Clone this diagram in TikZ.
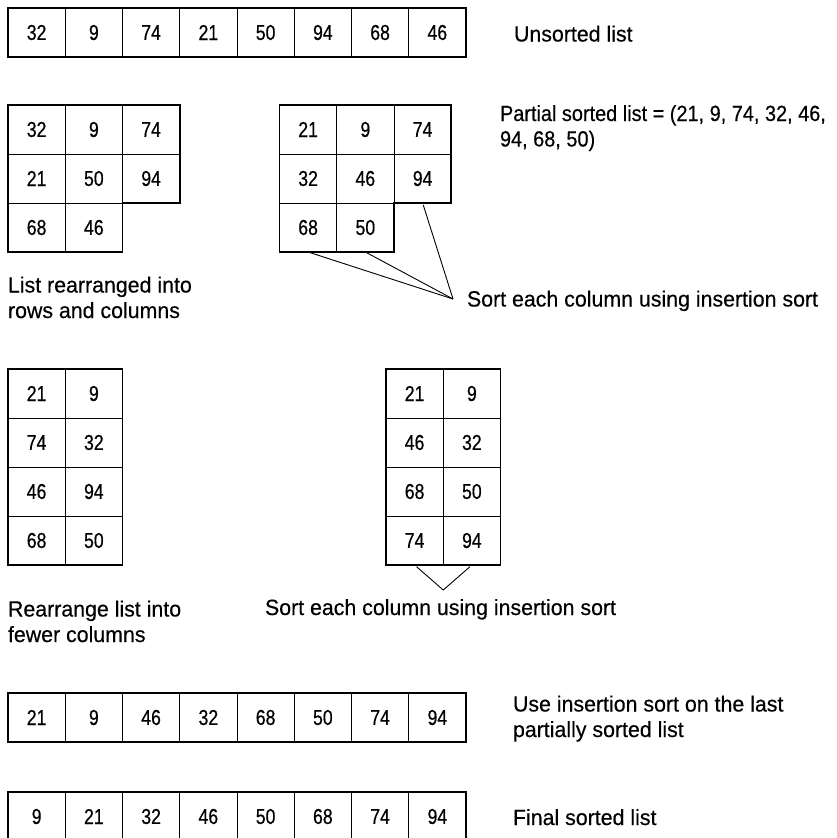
\documentclass[tikz,border=0pt]{standalone}
\usepackage{fontspec}
\setmainfont[FakeStretch=0.97,FakeBold=0.35]{Liberation Sans}
\newfontfamily\cellfont[FakeStretch=0.82,FakeBold=0.45]{Liberation Sans}
\newfontfamily\narrowfont[FakeStretch=0.905,FakeBold=0.35]{Liberation Sans}
\begin{document}
\begin{tikzpicture}[x=1pt,y=-1pt,
  cell/.style={draw=black, line width=0.8pt, inner sep=0pt, outer sep=0pt,
    minimum width=57.25pt, minimum height=49pt, anchor=center,
    font=\cellfont\fontsize{21.5}{24}\selectfont},
  outline/.style={draw=black, line width=1.9pt, line join=miter},
  conn/.style={draw=black, line width=0.9pt},
  txt/.style={anchor=base west, inner sep=0pt, outer sep=0pt, align=left,
    font=\fontsize{22}{25.5}\selectfont}]
\useasboundingbox (0,0) rectangle (836,838);
\fill[white] (0,0) rectangle (836,838);

% top unsorted row
\foreach \v [count=\c] in {32,9,74,21,50,94,68,46}
  \node[cell] (t-\c) at ({8+57.25*(\c-0.5)},{8+24.5}) {\v};
\draw[outline] (t-1.north west) rectangle (t-8.south east);

% grid 1
\foreach \row [count=\r] in {{32,9,74},{21,50,94},{68,46}}
  \foreach \v [count=\c] in \row
    \node[cell] (ga-\r-\c) at ({8+57.25*(\c-0.5)},{105+49*(\r-0.5)}) {\v};
\draw[outline] (ga-1-1.north west) -- (ga-1-3.north east) -- (ga-2-3.south east)
  -- (ga-3-2.north east) -- (ga-3-2.south east) -- (ga-3-1.south west) -- cycle;

% grid 2
\foreach \row [count=\r] in {{21,9,74},{32,46,94},{68,50}}
  \foreach \v [count=\c] in \row
    \node[cell] (gb-\r-\c) at ({279.5+57.25*(\c-0.5)},{105+49*(\r-0.5)}) {\v};
\draw[outline] (gb-1-1.north west) -- (gb-1-3.north east) -- (gb-2-3.south east)
  -- (gb-3-2.north east) -- (gb-3-2.south east) -- (gb-3-1.south west) -- cycle;

% grid 3
\foreach \row [count=\r] in {{21,9},{74,32},{46,94},{68,50}}
  \foreach \v [count=\c] in \row
    \node[cell] (gc-\r-\c) at ({8+57.25*(\c-0.5)},{369+49*(\r-0.5)}) {\v};
\draw[outline] (gc-1-1.north west) rectangle (gc-4-2.south east);

% grid 4
\foreach \row [count=\r] in {{21,9},{46,32},{68,50},{74,94}}
  \foreach \v [count=\c] in \row
    \node[cell] (gd-\r-\c) at ({386+57.25*(\c-0.5)},{369+49*(\r-0.5)}) {\v};
\draw[outline] (gd-1-1.north west) rectangle (gd-4-2.south east);

% row 5
\foreach \v [count=\c] in {21,9,46,32,68,50,74,94}
  \node[cell] (p-\c) at ({8+57.25*(\c-0.5)},{693+24.5}) {\v};
\draw[outline] (p-1.north west) rectangle (p-8.south east);

% row 6
\foreach \v [count=\c] in {9,21,32,46,50,68,74,94}
  \node[cell] (f-\c) at ({8+57.25*(\c-0.5)},{792+24.5}) {\v};
\draw[outline] (f-1.north west) rectangle (f-8.south east);

% connectors
\coordinate (apexa) at (453,299);
\draw[conn, shorten <=2pt] (gb-3-1.south) -- (apexa);
\draw[conn, shorten <=2pt] (gb-3-2.south) -- (apexa);
\draw[conn, shorten <=2pt] (gb-2-3.south) -- (apexa);
\coordinate (apexb) at (443.25,590);
\draw[conn, shorten <=2.5pt, shorten >=2.5pt] (gd-4-1.south) -- (apexb) -- (gd-4-2.south);

% labels (anchor = baseline of the last line)
\node[txt] (lu) at (514,41.5) {Unsorted list};
\node[txt, font=\narrowfont\fontsize{22}{25.5}\selectfont] (lp) at (500,146.5) {Partial sorted list = (21, 9, 74, 32, 46,\\94, 68, 50)};
\node[txt] (lr) at (8,318) {List rearranged into\\rows and columns};
\node[txt] (ls1) at (467,306.5) {Sort each column using insertion sort};
\node[txt] (lf) at (8,642) {Rearrange list into\\fewer columns};
\node[txt] (ls2) at (265,615) {Sort each column using insertion sort};
\node[txt] (li) at (513,737) {Use insertion sort on the last\\partially sorted list};
\node[txt] (lfin) at (513,825) {Final sorted list};
\end{tikzpicture}
\end{document}
